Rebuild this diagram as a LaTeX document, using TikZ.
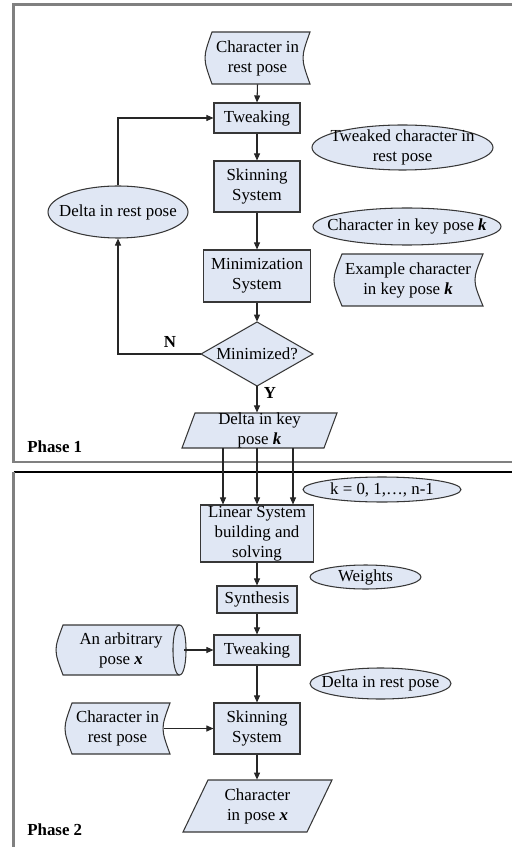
\documentclass[tikz,border=0pt]{standalone}
\usepackage{fontspec}
\setmainfont{Liberation Serif}
\usetikzlibrary{arrows.meta,shapes.geometric}
\newdimen\pxu \pxu=0.02cm
\definecolor{boxfill}{RGB}{224,231,244}
\definecolor{boxedge}{RGB}{55,55,55}
\definecolor{framegray}{RGB}{128,128,128}
\begin{document}
\begin{tikzpicture}[x=0.02cm,y=-0.02cm,
  font=\fontsize{9.6pt}{11.4pt}\selectfont,
  shp/.style={draw=boxedge,fill=boxfill,line width=0.6pt},
  txt/.style={inner sep=0pt,align=center,text=black},
  box/.style={rectangle,draw=boxedge,fill=boxfill,line width=0.6pt,inner sep=0pt,align=center},
  ell/.style={ellipse,draw=boxedge,fill=boxfill,line width=0.6pt,inner sep=0pt},
  arr/.style={-{Triangle[length=4pt,width=3.4pt]},line width=0.6pt,draw=black!85},
  lbl/.style={inner sep=0pt,font=\fontsize{9.6pt}{11.4pt}\selectfont\bfseries}]
\useasboundingbox (0,0) rectangle (512,847);
% frames
\draw[framegray,line width=1.3pt] (512,4.5) -- (13.5,4.5) -- (13.5,462) -- (512,462);
\draw[black,line width=0.7pt] (13.5,472) -- (512,472);
\draw[framegray,line width=1.3pt] (13.5,472) -- (13.5,847);

% ---- shapes drawn directly ----
% Character in rest pose (stored data)
\draw[shp] (212,32) -- (310,32) .. controls (300.7,58) .. (310,84) -- (212,84) .. controls (202.7,58) .. (212,32) -- cycle;
% Example character (stored data)
\draw[shp] (342,254) -- (483,254) .. controls (472.3,280) .. (483,306) -- (342,306) .. controls (331.3,280) .. (342,254) -- cycle;
% Minimized? diamond
\draw[shp] (257,322) -- (313,354) -- (257,386) -- (201,354) -- cycle;
% Delta in key pose k (parallelogram)
\draw[shp] (195,413) -- (337,413) -- (324,448) -- (182,448) -- cycle;
% An arbitrary pose x (horizontal cylinder)
\draw[shp] (63,625) -- (179.5,625) .. controls (188.2,625) and (188.2,675) .. (179.5,675) -- (63,675) .. controls (53.7,650) .. (63,625) -- cycle;
\draw[draw=boxedge,line width=0.6pt] (179.5,625) .. controls (170.8,625) and (170.8,675) .. (179.5,675);
% Character in rest pose, phase 2 (stored data)
\draw[shp] (72,703) -- (170,703) .. controls (160.7,728.5) .. (170,754) -- (72,754) .. controls (62.7,728.5) .. (72,703) -- cycle;
% Character in pose x (parallelogram)
\draw[shp] (208,780) -- (332,780) -- (307,832) -- (183,832) -- cycle;

% ---- nodes ----
\node[txt,minimum width=105\pxu,minimum height=52\pxu] (rest1) at (257.5,58) {Character in\\rest pose};
\node[box,minimum width=86\pxu,minimum height=30\pxu] (tw1) at (257,118) {Tweaking};
\node[ell,minimum width=181\pxu,minimum height=45\pxu] (tweaked) at (402.5,147.5) {};
\node[txt] (tweakedtxt) at (402.5,147) {Tweaked character in\\rest pose};
\node[box,minimum width=86\pxu,minimum height=51\pxu] (sk1) at (257,186.5) {Skinning\\System};
\node[ell,minimum width=140\pxu,minimum height=52\pxu] (drest1) at (118,212) {};
\node[txt] (drest1txt) at (118,212) {Delta in rest pose};
\node[ell,minimum width=188\pxu,minimum height=37\pxu] (keypose) at (407,226.5) {};
\node[txt] (keyposetxt) at (407,226.5) {Character in key pose \textbf{\textit{k}}};
\node[box,minimum width=107\pxu,minimum height=52\pxu] (min) at (257,276) {Minimization\\System};
\node[txt,minimum width=149\pxu,minimum height=52\pxu] (example) at (408,280) {Example character\\in key pose \textbf{\textit{k}}};
\node[txt,minimum width=112\pxu,minimum height=64\pxu] (dia) at (257,354) {Minimized?};
\node[lbl] (nlab) at (170,342) {N};
\node[lbl] (ylab) at (270,393) {Y};
\node[txt,minimum width=155\pxu,minimum height=35\pxu] (dkey) at (259.5,430.5) {Delta in key\\pose \textbf{\textit{k}}};
\node[lbl,anchor=west] (ph1) at (27,447) {Phase 1};

\node[ell,minimum width=158\pxu,minimum height=25\pxu] (kell) at (382,489.5) {};
\node[txt] (kelltxt) at (382,489.5) {k = 0, 1,\dots, n-1};
\node[box,minimum width=113\pxu,minimum height=57\pxu] (lin) at (257,533.5) {Linear System\\building and\\solving};
\node[ell,minimum width=111\pxu,minimum height=24\pxu] (wts) at (365.5,577) {};
\node[txt] (wtstxt) at (365.5,577) {Weights};
\node[box,minimum width=80\pxu,minimum height=27\pxu] (syn) at (257,599.5) {Synthesis};
\node[box,minimum width=86\pxu,minimum height=30\pxu] (tw2) at (257,650) {Tweaking};
\node[txt,minimum width=130\pxu,minimum height=50\pxu] (arb) at (121,650) {An arbitrary\\pose \textbf{\textit{x}}};
\node[ell,minimum width=141\pxu,minimum height=31\pxu] (drest2) at (380.5,683.5) {};
\node[txt] (drest2txt) at (380.5,683.5) {Delta in rest pose};
\node[txt,minimum width=105\pxu,minimum height=51\pxu] (rest2) at (117.5,728.5) {Character in\\rest pose};
\node[box,minimum width=86\pxu,minimum height=51\pxu] (sk2) at (257,728.5) {Skinning\\System};
\node[txt,minimum width=149\pxu,minimum height=52\pxu] (cpx) at (257.5,806) {Character\\in pose \textbf{\textit{x}}};
\node[lbl,anchor=west] (ph2) at (27,830) {Phase 2};

% ---- connectors ----
\draw[arr] (rest1.south) -- (tw1.north);
\draw[arr] (tw1.south) -- (sk1.north);
\draw[arr] (sk1.south) -- (min.north);
\draw[arr] (min.south) -- (dia.north);
\draw[arr] (dia.west) -| (drest1.south);
\draw[arr] (drest1.north) |- (tw1.west);
\draw[arr] (dia.south) -- (dkey.north -| dia.south);
\coordinate (k1) at (223,448);
\coordinate (k2) at (257,448);
\coordinate (k3) at (293,448);
\draw[arr] (k1) -- (k1 |- lin.north);
\draw[arr] (k2) -- (k2 |- lin.north);
\draw[arr] (k3) -- (k3 |- lin.north);
\draw[arr] (lin.south) -- (syn.north);
\draw[arr] (syn.south) -- (tw2.north);
\draw[arr] ([xshift=-2\pxu]arb.east) -- (tw2.west);
\draw[arr] (tw2.south) -- (sk2.north);
\draw[arr] ([xshift=-6\pxu]rest2.east) -- (sk2.west);
\draw[arr] (sk2.south) -- (cpx.north -| sk2.south);
\end{tikzpicture}
\end{document}
